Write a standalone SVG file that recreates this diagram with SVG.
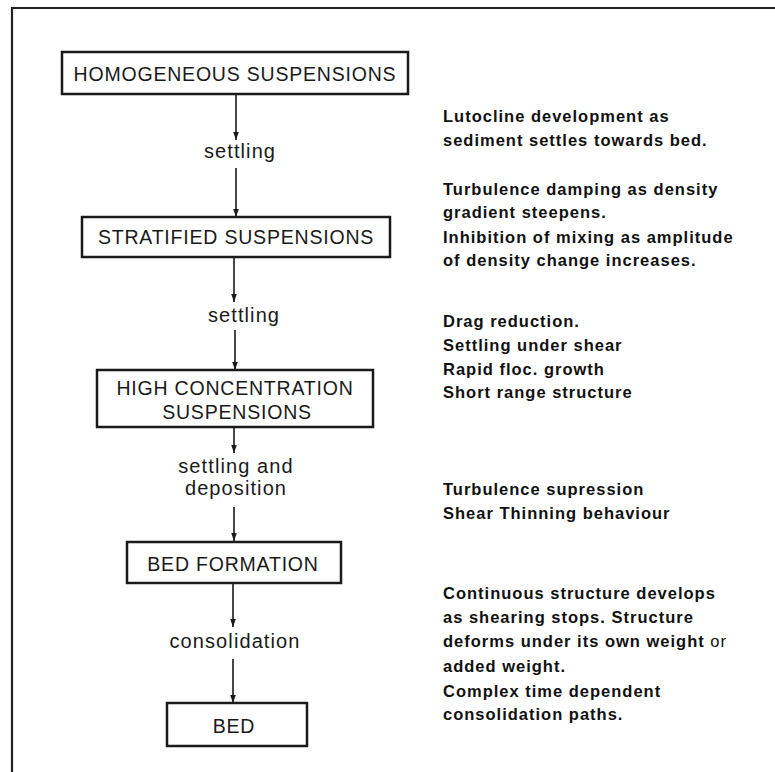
<svg xmlns="http://www.w3.org/2000/svg" width="775" height="772" viewBox="0 0 775 772">
<style>
.box{fill:#fff;stroke:#1a1a1a;stroke-width:2.5}
.lbl{font-family:"Liberation Sans",Arial,sans-serif;font-size:19.5px;letter-spacing:0.8px;fill:#1a1a1a;text-anchor:middle}
.mid{font-family:"Liberation Sans",Arial,sans-serif;font-size:20px;letter-spacing:1.1px;fill:#1a1a1a;text-anchor:middle}
.note{font-family:"Liberation Sans",Arial,sans-serif;font-size:16.5px;font-weight:bold;letter-spacing:1px;fill:#111}
.conn{stroke:#1a1a1a;stroke-width:1.6;fill:none;marker-end:url(#ah)}
.frame{stroke:#222;stroke-width:2.2;fill:none}
</style>
<defs>
<marker id="ah" markerUnits="userSpaceOnUse" markerWidth="8" markerHeight="12" refX="10" refY="3.5" orient="auto" viewBox="0 0 10 7">
<path d="M0,0 L10,3.5 L0,7 z" fill="#1a1a1a"/>
</marker>
</defs>
<rect width="775" height="772" fill="#fff"/>
<path class="frame" d="M12,772 L12,8 L775,8"/>

<g id="connectors">
<line class="conn" x1="236" y1="95" x2="236" y2="140"/>
<line class="conn" x1="236" y1="168" x2="236" y2="217"/>
<line class="conn" x1="234" y1="258" x2="234" y2="302"/>
<line class="conn" x1="235" y1="330" x2="235" y2="370"/>
<line class="conn" x1="234" y1="428" x2="234" y2="453"/>
<line class="conn" x1="234" y1="507" x2="234" y2="541"/>
<line class="conn" x1="233" y1="584" x2="233" y2="627"/>
<line class="conn" x1="233" y1="659" x2="233" y2="703"/>
</g>

<g id="edge-labels">
<text class="mid" x="240" y="158">settling</text>
<text class="mid" x="244" y="322">settling</text>
<text class="mid" x="236" y="473">settling and</text>
<text class="mid" x="236" y="495">deposition</text>
<text class="mid" x="235" y="648">consolidation</text>
</g>

<g id="homogeneous">
<rect class="box" x="62" y="52" width="346" height="42"/>
<text class="lbl" x="235" y="81">HOMOGENEOUS SUSPENSIONS</text>
</g>
<g id="stratified">
<rect class="box" x="82" y="217" width="308" height="40"/>
<text class="lbl" x="236" y="244">STRATIFIED SUSPENSIONS</text>
</g>
<g id="high-concentration">
<rect class="box" x="97" y="370" width="276" height="57"/>
<text class="lbl" x="235" y="395">HIGH CONCENTRATION</text>
<text class="lbl" x="237" y="419">SUSPENSIONS</text>
</g>
<g id="bed-formation">
<rect class="box" x="127" y="542" width="214" height="41"/>
<text class="lbl" x="233" y="571">BED FORMATION</text>
</g>
<g id="bed">
<rect class="box" x="167" y="703" width="140" height="43"/>
<text class="lbl" x="234" y="733">BED</text>
</g>

<g id="notes">
<text class="note" x="443" y="122">Lutocline development as</text>
<text class="note" x="443" y="146">sediment settles towards bed.</text>
<text class="note" x="443" y="195">Turbulence damping as density</text>
<text class="note" x="443" y="218">gradient steepens.</text>
<text class="note" x="443" y="243">Inhibition of mixing as amplitude</text>
<text class="note" x="443" y="266">of density change increases.</text>
<text class="note" x="443" y="327">Drag reduction.</text>
<text class="note" x="443" y="351">Settling under shear</text>
<text class="note" x="443" y="375">Rapid floc. growth</text>
<text class="note" x="443" y="398">Short range structure</text>
<text class="note" x="443" y="495">Turbulence supression</text>
<text class="note" x="443" y="519">Shear Thinning behaviour</text>
<text class="note" x="443" y="599">Continuous structure develops</text>
<text class="note" x="443" y="623">as shearing stops. Structure</text>
<text class="note" x="443" y="647">deforms under its own weight <tspan font-weight="normal">or</tspan></text>
<text class="note" x="443" y="672">added weight.</text>
<text class="note" x="443" y="697">Complex time dependent</text>
<text class="note" x="443" y="720">consolidation paths.</text>
</g>
</svg>
